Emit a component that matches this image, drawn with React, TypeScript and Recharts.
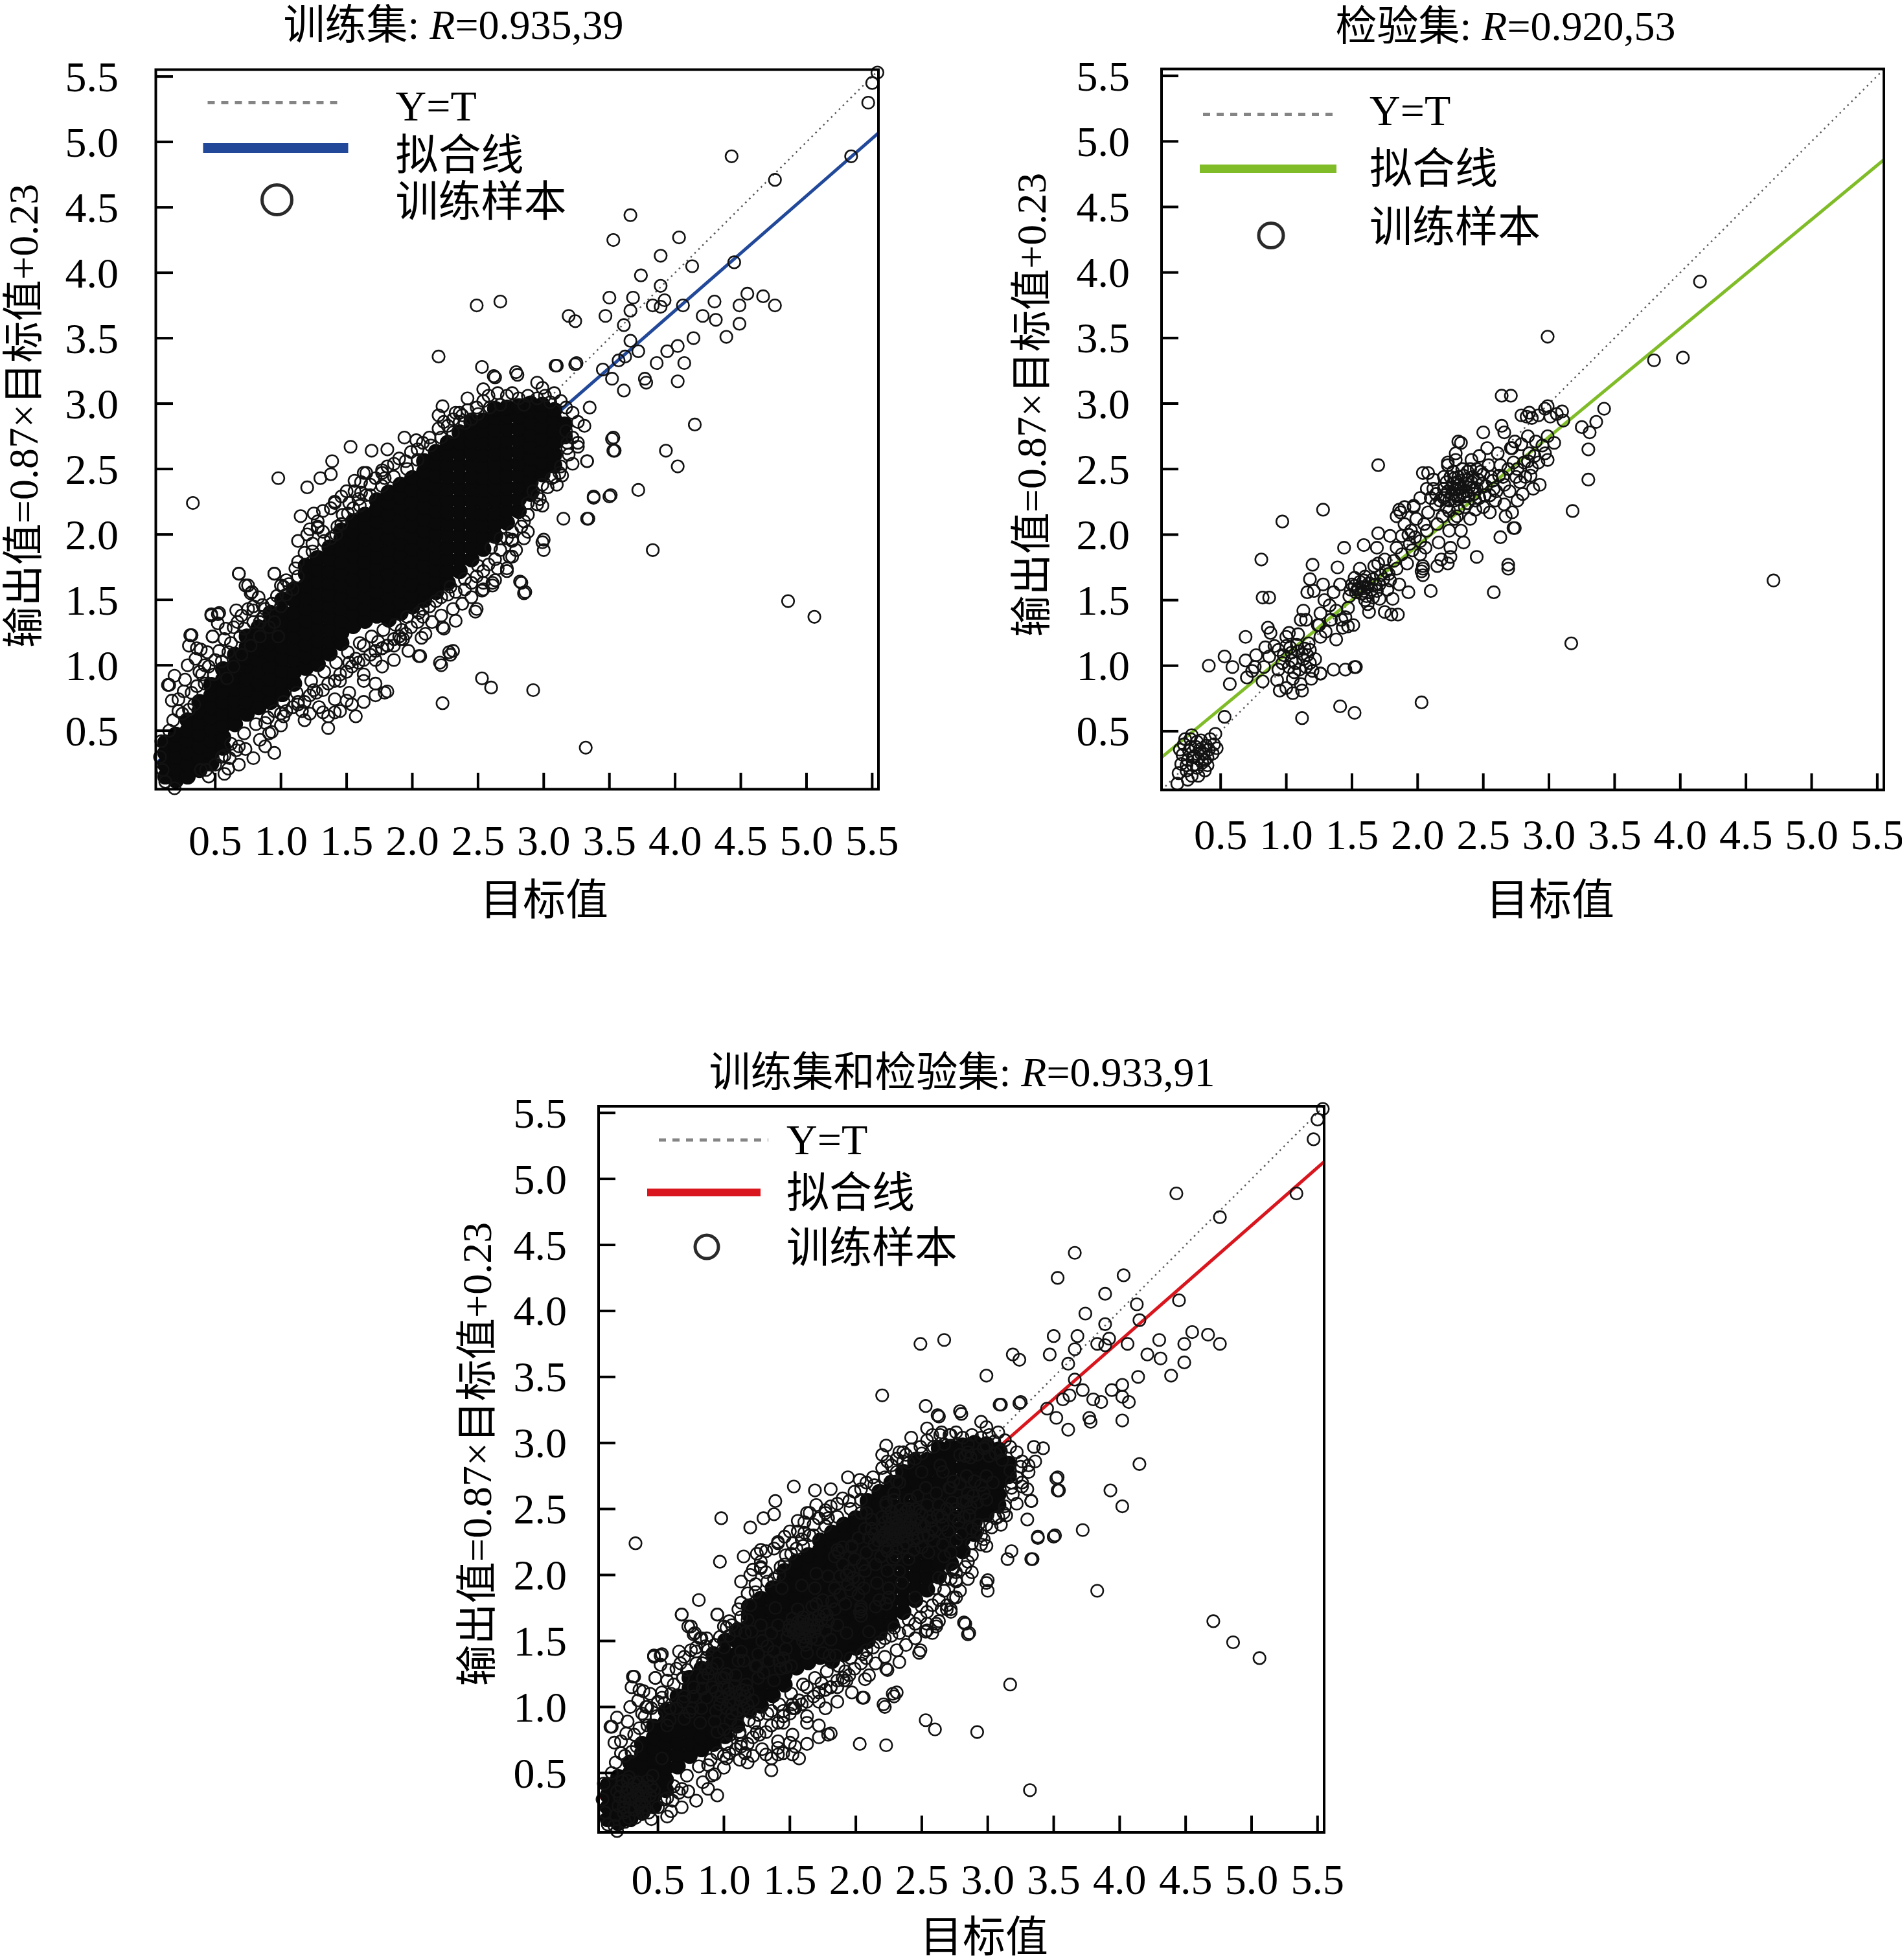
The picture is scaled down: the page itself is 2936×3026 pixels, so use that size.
import React from 'react';
import { ScatterChart, Scatter, XAxis, YAxis } from 'recharts';

type P = [number, number];

// ---------- axis values ----------
const axisTicks = [0.5, 1.0, 1.5, 2.0, 2.5, 3.0, 3.5, 4.0, 4.5, 5.0, 5.5];
const axisDomain: [number, number] = [0.05, 5.55];

// ---------- reference / fitted lines (endpoints) ----------
const identityLine: P[] = [[0.05, 0.05], [5.55, 5.55]];
const trainFit: P[] = [[0.05, 0.25], [5.55, 5.07]];
const testFit: P[] = [[0.05, 0.30], [5.55, 4.86]];
const allFit: P[] = [[0.05, 0.31], [5.55, 5.13]];

// ---------- training set: the saturated (solid black) core ----------
const trainCore: P[] = [
  [0.12, 0.15], [0.12, 0.24], [0.12, 0.33], [0.12, 0.41],
  [0.2, 0.12], [0.2, 0.21], [0.2, 0.3], [0.2, 0.39], [0.2, 0.47],
  [0.29, 0.15], [0.29, 0.24], [0.29, 0.33], [0.29, 0.42], [0.29, 0.5], [0.29, 0.58],
  [0.38, 0.2], [0.38, 0.29], [0.38, 0.38], [0.38, 0.47], [0.38, 0.56], [0.38, 0.65], [0.38, 0.72],
  [0.47, 0.25], [0.47, 0.33], [0.47, 0.42], [0.47, 0.51], [0.47, 0.6], [0.47, 0.68], [0.47, 0.77], [0.47, 0.85],
  [0.56, 0.37], [0.56, 0.45], [0.56, 0.54], [0.56, 0.63], [0.56, 0.72], [0.56, 0.8], [0.56, 0.89], [0.56, 0.97],
  [0.65, 0.55], [0.65, 0.64], [0.65, 0.73], [0.65, 0.82], [0.65, 0.91], [0.65, 1.0], [0.65, 1.08],
  [0.74, 0.63], [0.74, 0.72], [0.74, 0.81], [0.74, 0.9], [0.74, 0.99], [0.74, 1.06], [0.74, 1.14], [0.74, 1.22],
  [0.83, 0.68], [0.83, 0.77], [0.83, 0.86], [0.83, 0.95], [0.83, 1.04], [0.83, 1.12], [0.83, 1.21], [0.83, 1.29],
  [0.92, 0.72], [0.92, 0.81], [0.92, 0.9], [0.92, 0.99], [0.92, 1.08], [0.92, 1.17], [0.92, 1.24], [0.92, 1.32], [0.92, 1.4],
  [1.01, 0.78], [1.01, 0.87], [1.01, 0.96], [1.01, 1.05], [1.01, 1.14], [1.01, 1.23], [1.01, 1.32], [1.01, 1.41], [1.01, 1.5],
  [1.1, 0.86], [1.1, 0.95], [1.1, 1.04], [1.1, 1.13], [1.1, 1.22], [1.1, 1.31], [1.1, 1.4], [1.1, 1.5], [1.1, 1.58],
  [1.19, 0.98], [1.19, 1.07], [1.19, 1.16], [1.19, 1.25], [1.19, 1.34], [1.19, 1.43], [1.19, 1.52], [1.19, 1.61], [1.19, 1.7], [1.19, 1.76],
  [1.28, 1.01], [1.28, 1.1], [1.28, 1.19], [1.28, 1.28], [1.28, 1.37], [1.28, 1.46], [1.28, 1.55], [1.28, 1.64], [1.28, 1.73], [1.28, 1.82],
  [1.37, 1.09], [1.37, 1.18], [1.37, 1.27], [1.37, 1.36], [1.37, 1.45], [1.37, 1.54], [1.37, 1.63], [1.37, 1.72], [1.37, 1.81], [1.37, 1.9],
  [1.46, 1.17], [1.46, 1.25], [1.46, 1.34], [1.46, 1.43], [1.46, 1.52], [1.46, 1.61], [1.46, 1.7], [1.46, 1.79], [1.46, 1.88], [1.46, 1.97], [1.46, 2.03],
  [1.55, 1.3], [1.55, 1.39], [1.55, 1.48], [1.55, 1.57], [1.55, 1.66], [1.55, 1.75], [1.55, 1.84], [1.55, 1.93], [1.55, 2.02], [1.55, 2.1],
  [1.64, 1.34], [1.64, 1.43], [1.64, 1.52], [1.64, 1.61], [1.64, 1.7], [1.64, 1.79], [1.64, 1.88], [1.64, 1.97], [1.64, 2.06], [1.64, 2.15],
  [1.73, 1.38], [1.73, 1.47], [1.73, 1.56], [1.73, 1.65], [1.73, 1.74], [1.73, 1.83], [1.73, 1.92], [1.73, 2.01], [1.73, 2.1], [1.73, 2.19], [1.73, 2.26],
  [1.82, 1.35], [1.82, 1.43], [1.82, 1.52], [1.82, 1.61], [1.82, 1.7], [1.82, 1.79], [1.82, 1.88], [1.82, 1.97], [1.82, 2.06], [1.82, 2.15], [1.82, 2.24], [1.82, 2.32],
  [1.91, 1.4], [1.91, 1.48], [1.91, 1.57], [1.91, 1.66], [1.91, 1.75], [1.91, 1.84], [1.91, 1.93], [1.91, 2.02], [1.91, 2.11], [1.91, 2.2], [1.91, 2.29], [1.91, 2.38],
  [2.0, 1.45], [2.0, 1.53], [2.0, 1.62], [2.0, 1.71], [2.0, 1.8], [2.0, 1.89], [2.0, 1.98], [2.0, 2.07], [2.0, 2.16], [2.0, 2.25], [2.0, 2.34], [2.0, 2.43],
  [2.09, 1.5], [2.09, 1.58], [2.09, 1.67], [2.09, 1.76], [2.09, 1.85], [2.09, 1.94], [2.09, 2.03], [2.09, 2.12], [2.09, 2.21], [2.09, 2.3], [2.09, 2.39], [2.09, 2.48], [2.09, 2.56],
  [2.18, 1.56], [2.18, 1.64], [2.18, 1.73], [2.18, 1.82], [2.18, 1.91], [2.18, 2.0], [2.18, 2.09], [2.18, 2.18], [2.18, 2.27], [2.18, 2.36], [2.18, 2.45], [2.18, 2.54], [2.18, 2.63],
  [2.27, 1.63], [2.27, 1.72], [2.27, 1.81], [2.27, 1.9], [2.27, 1.99], [2.27, 2.08], [2.27, 2.17], [2.27, 2.26], [2.27, 2.35], [2.27, 2.44], [2.27, 2.53], [2.27, 2.62], [2.27, 2.7],
  [2.36, 1.72], [2.36, 1.81], [2.36, 1.9], [2.36, 1.99], [2.36, 2.08], [2.36, 2.17], [2.36, 2.26], [2.36, 2.35], [2.36, 2.44], [2.36, 2.53], [2.36, 2.62], [2.36, 2.7], [2.36, 2.78],
  [2.45, 1.81], [2.45, 1.9], [2.45, 1.99], [2.45, 2.08], [2.45, 2.17], [2.45, 2.26], [2.45, 2.35], [2.45, 2.44], [2.45, 2.53], [2.45, 2.62], [2.45, 2.71], [2.45, 2.78], [2.45, 2.86],
  [2.54, 1.89], [2.54, 1.98], [2.54, 2.07], [2.54, 2.16], [2.54, 2.25], [2.54, 2.34], [2.54, 2.43], [2.54, 2.52], [2.54, 2.61], [2.54, 2.7], [2.54, 2.79], [2.54, 2.87],
  [2.63, 1.99], [2.63, 2.08], [2.63, 2.17], [2.63, 2.26], [2.63, 2.35], [2.63, 2.44], [2.63, 2.53], [2.63, 2.62], [2.63, 2.71], [2.63, 2.8], [2.63, 2.89], [2.63, 2.96],
  [2.72, 2.09], [2.72, 2.18], [2.72, 2.27], [2.72, 2.36], [2.72, 2.45], [2.72, 2.54], [2.72, 2.63], [2.72, 2.72], [2.72, 2.81], [2.72, 2.9], [2.72, 2.97],
  [2.81, 2.18], [2.81, 2.27], [2.81, 2.36], [2.81, 2.45], [2.81, 2.54], [2.81, 2.63], [2.81, 2.72], [2.81, 2.81], [2.81, 2.9], [2.81, 2.98],
  [2.9, 2.31], [2.9, 2.4], [2.9, 2.49], [2.9, 2.58], [2.9, 2.67], [2.9, 2.76], [2.9, 2.85], [2.9, 2.94], [2.9, 3.0],
  [2.99, 2.46], [2.99, 2.55], [2.99, 2.64], [2.99, 2.73], [2.99, 2.82], [2.99, 2.91], [2.99, 2.99],
  [3.08, 2.53], [3.08, 2.61], [3.08, 2.7], [3.08, 2.79], [3.08, 2.88], [3.08, 2.95],
  [3.16, 2.75], [3.16, 2.84],
];

// ---------- training set: fringe circles around the core ----------
const trainFringe: P[] = [
  [0.14, 0.85], [0.17, 0.73], [0.27, 0.89], [0.22, 0.65], [0.32, 0.79], [0.4, 0.93], [0.45, 0.99], [0.5, 1.04],
  [0.53, 1.11], [0.48, 1.22], [0.57, 1.2], [0.64, 1.29], [0.67, 1.33], [0.7, 1.38], [0.75, 1.43], [0.79, 1.45],
  [0.84, 1.33], [0.88, 1.43], [0.95, 1.33], [1.0, 1.45], [1.04, 1.54], [1.09, 1.58], [0.73, 1.61], [0.78, 1.56],
  [0.68, 1.7], [0.83, 1.52], [0.52, 1.39], [0.47, 1.38], [0.31, 1.23], [0.36, 1.13], [0.42, 0.86], [0.59, 0.9],
  [0.64, 0.99], [0.7, 1.08], [0.77, 1.15], [0.84, 1.22], [0.91, 1.29], [0.98, 1.22], [0.25, 0.63], [0.18, 0.58],
  [0.34, 0.7], [0.08, 0.3], [0.1, 0.2], [0.12, 0.11], [0.09, 0.42], [0.15, 0.5],
  [0.22, 0.74], [0.3, 0.66], [0.26, 0.8], [0.36, 0.84], [0.42, 1.0], [0.38, 0.95], [0.49, 0.93], [0.55, 1.03],
  [0.6, 1.1], [0.62, 1.17], [0.69, 1.22], [0.72, 1.28], [0.79, 1.33], [0.87, 1.37], [0.93, 1.47], [0.97, 1.53],
  [1.06, 1.62], [1.13, 1.68], [0.19, 0.92], [0.29, 1.0], [0.35, 1.05], [0.44, 1.1], [0.58, 1.28], [0.66, 1.42],
  [1.13, 1.79], [1.18, 1.86], [1.24, 1.93], [1.13, 1.95], [1.22, 2.04], [1.28, 2.1], [1.32, 2.02], [1.38, 1.97],
  [1.43, 2.06], [1.47, 2.15], [1.52, 2.24], [1.5, 2.33], [1.56, 2.33], [1.61, 2.4], [1.59, 2.27], [1.63, 2.47],
  [1.68, 2.38], [1.72, 2.43], [1.77, 2.47], [1.81, 2.52], [1.86, 2.54], [1.79, 2.43], [1.9, 2.58], [1.95, 2.56],
  [1.99, 2.63], [2.04, 2.65], [2.08, 2.7], [1.38, 2.2], [1.41, 2.24], [1.46, 2.29], [1.32, 2.18], [1.28, 2.06],
  [1.11, 1.74], [1.04, 1.65], [1.0, 1.61], [0.95, 1.7], [1.24, 1.87], [1.33, 1.95], [1.42, 2.0], [1.51, 2.16],
  [1.6, 2.22], [1.68, 2.3], [1.77, 2.37], [1.86, 2.44], [1.96, 2.5], [2.04, 2.57], [1.65, 2.3], [1.55, 2.2],
  [2.13, 2.74], [2.2, 2.81], [2.27, 2.83], [2.31, 2.88], [2.36, 2.93], [2.42, 2.95], [2.45, 2.88], [2.49, 2.97],
  [2.54, 3.02], [2.58, 3.06], [2.65, 3.08], [2.72, 3.06], [2.76, 3.08], [2.81, 3.04], [2.88, 3.06], [2.95, 3.04],
  [3.01, 3.06], [3.08, 3.08], [3.13, 3.02], [3.17, 2.97], [2.36, 2.86], [2.42, 3.04], [2.33, 2.93], [2.67, 2.99],
  [2.85, 2.99], [2.14, 2.68], [2.22, 2.74], [2.31, 2.78], [2.4, 2.85], [2.5, 2.92], [2.59, 2.97], [3.05, 3.01],
  [3.22, 2.93], [3.26, 2.86], [3.31, 2.83], [3.35, 2.97], [3.22, 2.74], [3.19, 2.61], [3.26, 2.7], [3.13, 2.52],
  [3.06, 2.43], [3.1, 2.38], [3.22, 2.54], [3.17, 2.79], [2.99, 2.38], [2.92, 2.33], [2.97, 2.27], [2.88, 2.24],
  [2.88, 2.15], [2.83, 2.06], [2.76, 2.02], [2.72, 1.97], [2.67, 1.88], [2.63, 1.81], [2.58, 1.77], [2.54, 1.72],
  [2.49, 1.68], [2.45, 1.63], [2.4, 1.58], [2.33, 1.56], [2.27, 1.54], [2.22, 1.52], [2.18, 1.49], [2.13, 1.45],
  [2.08, 1.43], [2.76, 1.83], [2.72, 1.72], [2.63, 1.65], [2.54, 1.58], [2.45, 1.52], [2.38, 1.47], [2.31, 1.43],
  [2.22, 1.38], [2.15, 1.33], [2.85, 1.97], [2.79, 1.88], [2.65, 1.74], [2.67, 1.97], [3.18, 2.66], [3.12, 2.47],
  [3.03, 2.36], [2.95, 2.3], [2.85, 2.1], [2.76, 1.96], [2.6, 1.9], [2.5, 1.76], [2.4, 1.66], [2.29, 1.6],
  [2.04, 1.33], [1.99, 1.29], [1.95, 1.24], [1.9, 1.22], [1.86, 1.2], [1.81, 1.15], [1.77, 1.13], [1.72, 1.11],
  [1.68, 1.08], [1.63, 1.04], [1.59, 1.02], [1.54, 0.99], [1.5, 0.95], [1.45, 0.93], [1.41, 0.88], [1.36, 0.86],
  [1.32, 0.81], [1.27, 0.79], [1.22, 0.77], [1.18, 0.72], [1.13, 0.7], [1.09, 0.68], [1.04, 0.65], [1.0, 0.63],
  [1.63, 0.88], [1.52, 0.79], [1.41, 0.74], [1.29, 0.68], [1.77, 0.99], [1.86, 1.04], [1.97, 1.11], [1.45, 0.65],
  [1.54, 0.7], [1.36, 0.61], [1.18, 0.58], [1.02, 0.72], [1.12, 0.79], [1.23, 0.88], [1.33, 0.95], [1.42, 1.02],
  [1.51, 1.1], [1.6, 1.17], [1.69, 1.22], [1.78, 1.27], [1.87, 1.31], [1.96, 1.37], [2.05, 1.4], [1.57, 1.05],
  [1.74, 1.18], [1.92, 1.27],
  [0.39, 0.2], [0.5, 0.24], [0.61, 0.29], [0.73, 0.36], [0.84, 0.43], [0.93, 0.49], [1.0, 0.54], [0.45, 0.15],
  [0.57, 0.17], [0.79, 0.29], [0.68, 0.24], [0.88, 0.38], [0.62, 0.4], [0.72, 0.48], [0.81, 0.55], [0.9, 0.6],
  [0.55, 0.3], [0.66, 0.35],
];

// ---------- training set: scattered individual samples ----------
const trainOutliers: P[] = [
  [5.54, 5.53], [5.5, 5.45], [5.47, 5.3], [5.34, 4.89], [4.43, 4.89], [4.76, 4.71], [3.66, 4.44], [3.53, 4.25],
  [4.03, 4.27], [3.89, 4.13], [4.13, 4.05], [4.45, 4.08], [3.74, 3.98], [3.89, 3.9], [3.5, 3.81], [3.68, 3.81],
  [3.66, 3.71], [3.83, 3.75], [3.89, 3.74], [3.92, 3.79], [4.06, 3.75], [4.55, 3.84], [4.67, 3.82], [4.76, 3.75],
  [4.3, 3.78], [4.49, 3.75], [4.21, 3.67], [4.31, 3.64], [4.49, 3.61], [4.39, 3.51], [4.14, 3.5], [4.02, 3.44],
  [3.94, 3.4], [4.07, 3.31], [4.02, 3.17], [3.86, 3.31], [3.77, 3.19], [3.78, 3.16], [3.61, 3.1], [3.57, 3.33],
  [3.62, 3.36], [3.72, 3.4], [3.66, 3.48], [3.61, 3.6], [3.47, 3.67], [3.19, 3.67], [3.24, 3.63], [3.45, 3.26],
  [3.52, 3.19], [3.25, 3.31], [3.1, 3.29], [4.15, 2.84], [3.53, 2.74], [3.54, 2.64], [3.93, 2.64], [4.02, 2.52],
  [3.33, 2.56], [3.38, 2.29], [3.51, 2.3], [3.34, 2.12], [3.15, 2.12], [3.72, 2.34], [3.83, 1.88], [4.86, 1.49],
  [5.06, 1.37], [3.32, 0.37], [2.92, 0.81], [2.53, 0.9], [2.6, 0.83], [2.23, 0.71], [2.23, 1.29], [2.33, 1.34],
  [2.28, 1.1], [2.29, 1.08], [2.21, 1.02], [2.05, 1.07], [2.07, 1.21], [2.49, 1.43], [2.53, 1.57], [2.61, 1.63],
  [2.82, 1.64], [2.86, 1.56], [3.0, 1.88], [3.0, 1.96], [2.49, 3.75], [2.67, 3.78], [2.2, 3.36], [2.53, 3.28],
  [2.62, 3.21], [2.79, 3.24], [2.8, 3.22], [3.09, 3.29], [3.24, 3.3], [0.33, 2.24], [0.98, 2.43], [0.19, 0.06],
  [2.23, 2.98], [2.2, 2.91], [2.24, 2.86], [2.54, 3.11], [2.38, 2.91], [2.95, 3.16], [2.99, 3.12], [3.33, 2.12],
  [3.38, 2.28], [3.5, 2.29], [3.33, 2.56], [3.52, 2.73], [3.53, 2.64], [3.18, 2.7], [3.26, 2.67], [3.08, 2.44],
  [3.14, 2.45], [2.95, 2.23], [2.99, 2.22], [2.88, 2.02], [2.76, 1.95], [2.72, 1.74], [2.74, 1.83], [2.54, 1.63],
  [2.61, 1.61], [2.08, 1.37], [2.1, 1.24], [2.06, 1.07], [1.93, 1.2], [1.72, 1.04], [1.81, 1.15], [1.63, 1.15],
  [1.52, 1.02], [1.45, 0.88], [1.63, 0.93], [1.72, 0.86], [1.79, 0.79], [1.25, 0.81], [1.16, 0.65], [1.13, 0.72],
  [0.95, 0.65], [0.88, 0.56], [1.02, 0.61], [0.68, 0.38], [0.57, 0.31], [0.43, 0.2], [1.36, 0.52], [1.57, 0.61],
  [1.22, 0.63], [1.32, 0.64], [1.41, 0.64], [1.5, 0.73], [1.63, 0.72], [1.72, 0.77], [1.81, 0.8], [1.91, 1.2],
  [1.86, 1.15], [1.77, 1.13], [2.22, 1.0], [2.31, 1.11], [2.24, 1.28], [2.48, 1.41], [2.83, 1.63], [2.85, 1.55],
  [2.99, 1.94], [0.6, 0.21], [0.95, 0.33], [0.91, 0.48], [1.2, 2.36], [1.3, 2.43], [1.38, 2.46], [1.39, 2.56],
  [1.53, 2.67], [1.69, 2.64], [1.81, 2.65], [1.94, 2.74], [2.03, 2.72], [2.63, 3.2], [1.15, 2.14], [1.25, 2.16],
  [1.28, 2.05], [1.2, 2.0], [1.41, 2.25], [1.46, 2.08], [1.56, 2.41], [1.61, 2.32], [1.65, 2.47], [1.77, 2.49],
  [0.68, 1.7], [0.75, 1.61], [0.77, 1.55], [0.95, 1.7], [1.02, 1.6], [0.47, 1.39], [0.53, 1.4], [0.52, 1.32],
  [0.48, 1.22], [0.79, 1.42], [0.86, 1.46], [0.84, 1.33], [0.32, 1.23], [0.3, 1.15], [0.39, 1.12], [0.15, 0.85],
];

// ---------- test (validation) set ----------
const testPoints: P[] = [
  [0.17, 0.1], [0.18, 0.18], [0.2, 0.25], [0.21, 0.32], [0.22, 0.4], [0.24, 0.2], [0.25, 0.28], [0.26, 0.35],
  [0.27, 0.44], [0.28, 0.16], [0.29, 0.24], [0.3, 0.31], [0.31, 0.38], [0.32, 0.22], [0.33, 0.29], [0.34, 0.36],
  [0.35, 0.43], [0.36, 0.26], [0.37, 0.33], [0.38, 0.2], [0.39, 0.39], [0.4, 0.3], [0.41, 0.36], [0.42, 0.44],
  [0.44, 0.33], [0.45, 0.4], [0.46, 0.48], [0.23, 0.44], [0.19, 0.36], [0.28, 0.47], [0.47, 0.37], [0.4, 0.24],
  [0.33, 0.16], [0.25, 0.13], [0.29, 0.3], [0.35, 0.33], [0.27, 0.38], [0.32, 0.42], [0.38, 0.28], [0.24, 0.24],
  [2.99, 3.51], [2.64, 3.06], [2.71, 3.06], [1.7, 2.53], [1.28, 2.19], [0.97, 2.1], [0.81, 1.81], [0.82, 1.52],
  [0.87, 1.52], [0.69, 1.22], [0.41, 1.0], [0.53, 1.07], [0.59, 0.99], [0.57, 0.86], [0.53, 0.61], [1.12, 0.6],
  [1.41, 0.69], [1.52, 0.64], [2.03, 0.72], [3.17, 1.17], [2.58, 1.56], [2.69, 1.77], [2.69, 1.74], [2.45, 1.83],
  [2.63, 1.98], [3.18, 2.18], [3.3, 2.42], [3.3, 2.65], [3.25, 2.82], [3.31, 2.78], [3.36, 2.86], [3.42, 2.96],
  [2.1, 1.57], [1.93, 1.56], [1.36, 0.97], [1.45, 0.97], [1.52, 0.99], [1.53, 0.99], [1.26, 0.94], [2.5, 2.78],
  [2.31, 2.71], [2.33, 2.7], [2.04, 2.47], [2.08, 2.47], [4.15, 3.93], [3.8, 3.33], [4.02, 3.35], [4.71, 1.65],
  [0.69, 1.04], [0.7, 0.91], [0.76, 0.99], [0.83, 0.99], [0.82, 0.88], [0.87, 1.07], [0.86, 1.29], [0.88, 1.25],
  [0.84, 1.14], [0.91, 1.15], [0.94, 0.97], [0.95, 0.81], [1.0, 1.22], [1.02, 1.25], [1.03, 1.14], [1.04, 1.04],
  [1.05, 0.9], [1.05, 0.79], [1.09, 1.11], [1.1, 0.97], [1.11, 0.86], [1.12, 0.81], [1.13, 1.05], [1.16, 1.08],
  [1.17, 1.17], [1.18, 1.02], [1.19, 0.9], [1.22, 1.05], [1.26, 0.94], [1.09, 1.24], [1.11, 1.35], [1.13, 1.42],
  [1.24, 1.31], [1.26, 1.22], [0.93, 0.89], [1.0, 0.83], [1.02, 0.99], [0.77, 1.08], [0.74, 0.96], [0.98, 1.08],
  [1.04, 1.1], [1.07, 1.02], [1.08, 1.16], [1.12, 1.09], [1.14, 1.13], [1.15, 0.99], [1.06, 0.95], [0.97, 1.02],
  [0.94, 1.12], [1.0, 1.15], [1.18, 1.12], [1.2, 0.96],
  [1.16, 1.56], [1.18, 1.66], [1.2, 1.77], [1.21, 1.57], [1.26, 1.4], [1.29, 1.5], [1.3, 1.26], [1.34, 1.35],
  [1.36, 1.56], [1.38, 1.2], [1.39, 1.75], [1.41, 1.62], [1.44, 1.9], [1.43, 1.29], [1.45, 1.37], [1.47, 1.44],
  [1.48, 1.53], [1.5, 1.62], [1.51, 1.31], [1.52, 1.67], [1.54, 1.58], [1.56, 1.74], [1.59, 1.92], [1.59, 1.65],
  [1.61, 1.53], [1.62, 1.47], [1.63, 1.41], [1.65, 1.58], [1.67, 1.76], [1.68, 1.62], [1.69, 1.9], [1.7, 2.01],
  [1.71, 1.51], [1.72, 1.69], [1.75, 1.81], [1.75, 1.41], [1.77, 1.58], [1.79, 1.65], [1.8, 1.39], [1.81, 1.51],
  [1.84, 1.74], [1.85, 1.39], [1.86, 1.62], [1.42, 1.35], [1.47, 1.3], [1.38, 1.42], [1.33, 1.46], [1.28, 1.62],
  [1.25, 1.31], [1.15, 1.35], [1.52, 1.61], [1.55, 1.59], [1.59, 1.57], [1.62, 1.6], [1.57, 1.55],
  [1.53, 1.56], [1.56, 1.64], [1.58, 1.6], [1.6, 1.68], [1.63, 1.63], [1.66, 1.66], [1.69, 1.57], [1.71, 1.62],
  [1.74, 1.66], [1.76, 1.72], [1.6, 1.5], [1.66, 1.52], [1.49, 1.58], [1.7, 1.78], [1.78, 1.7], [1.82, 1.8],
  [1.88, 1.85], [1.92, 1.78], [1.96, 1.88], [1.98, 1.98], [2.02, 1.95], [2.05, 2.08], [1.93, 2.0],
  [1.87, 2.17], [1.9, 2.08], [1.88, 1.99], [1.84, 1.9], [1.94, 1.93], [1.95, 2.03], [1.97, 2.21], [1.99, 2.12],
  [2.02, 1.85], [2.03, 1.72], [2.04, 1.76], [2.06, 1.9], [2.07, 2.03], [2.08, 2.17], [2.1, 2.28], [2.12, 2.35],
  [2.14, 2.23], [2.15, 2.08], [2.16, 1.94], [2.18, 1.81], [2.2, 2.35], [2.22, 2.21], [2.23, 2.53], [2.24, 2.03],
  [2.25, 1.9], [2.27, 2.39], [2.28, 2.26], [2.29, 2.57], [2.3, 2.14], [2.31, 2.44], [2.32, 2.3], [2.33, 2.03],
  [2.35, 1.94], [2.36, 2.21], [2.37, 2.39], [2.38, 2.48], [2.39, 2.3], [2.4, 2.12], [2.41, 2.57], [2.42, 2.44],
  [2.44, 2.26], [2.45, 2.35], [2.47, 2.6], [2.48, 2.48], [2.49, 2.39], [2.5, 2.21], [2.51, 2.3], [2.53, 2.66],
  [2.54, 2.53], [2.55, 2.17], [2.56, 2.44], [2.58, 2.35], [2.59, 2.26], [2.61, 2.62], [2.63, 2.53], [2.65, 2.44],
  [2.66, 2.23], [2.67, 2.14], [2.7, 2.33], [2.72, 2.66], [2.73, 2.55], [2.74, 2.05], [2.75, 2.44], [2.76, 2.26],
  [2.79, 2.69], [2.81, 2.55], [2.82, 2.44], [2.84, 2.75], [2.85, 2.62], [2.87, 2.51], [2.88, 2.35], [2.9, 2.71],
  [2.92, 2.55], [2.93, 2.38], [2.97, 2.62], [2.99, 2.75], [2.99, 2.57], [3.04, 2.7], [2.2, 2.28], [2.23, 2.33],
  [2.29, 2.3], [2.25, 2.44], [2.33, 2.35], [2.28, 2.12], [2.19, 2.14], [2.26, 2.36], [2.3, 2.4], [2.34, 2.32],
  [2.38, 2.42], [2.27, 2.48], [2.22, 2.4], [2.31, 2.27], [2.35, 2.45], [2.42, 2.36], [2.4, 2.5],
  [2.21, 2.3], [2.24, 2.26], [2.26, 2.31], [2.3, 2.34], [2.32, 2.38], [2.35, 2.29], [2.37, 2.33], [2.41, 2.4],
  [2.43, 2.31], [2.46, 2.42], [2.24, 2.18], [2.31, 2.2], [2.38, 2.24], [2.44, 2.19], [2.47, 2.28], [2.52, 2.37],
  [2.55, 2.3], [2.57, 2.41], [2.5, 2.46], [2.45, 2.5], [2.34, 2.5], [2.17, 2.26], [2.14, 2.31], [2.28, 2.43],
  [2.39, 2.36], [2.6, 2.33], [2.62, 2.45], [2.66, 2.38], [2.69, 2.5], [2.76, 2.5], [2.78, 2.4], [2.84, 2.56],
  [2.89, 2.6], [2.95, 2.68], [2.86, 2.45],
  [2.79, 2.91], [2.83, 2.9], [2.85, 2.93], [2.87, 2.89], [2.92, 2.91], [2.97, 2.96], [3.01, 2.9], [3.06, 2.92],
  [3.1, 2.94], [3.11, 2.87], [2.99, 2.98], [2.64, 2.83], [2.66, 2.78], [2.74, 2.71], [2.71, 2.66], [2.8, 2.31],
  [2.72, 2.17], [2.73, 2.05], [2.23, 1.78], [2.25, 1.83], [2.15, 1.76], [2.04, 1.74], [2.04, 1.69], [1.9, 2.21],
  [1.97, 2.22], [2.02, 2.28], [2.07, 2.35], [2.12, 2.42], [2.2, 2.44], [2.23, 2.55], [2.29, 2.62], [1.79, 1.99],
  [1.84, 2.14], [1.86, 2.19],
];

const toXY = (arr: P[]) => arr.map(([x, y]) => ({ x, y }));

// ---------- layout ----------
const ML = 170;
const MR = 70;
const MT = 30;
const MB = 140;
const Y_AXIS_W = 160;
const X_AXIS_H = 130;
const FONT_NUM = "'Liberation Serif', 'Times New Roman', serif";
const FONT_MIX = "'Liberation Serif', 'Noto Sans CJK SC', serif";

type PanelCfg = {
  id: string;
  left: number;
  top: number;
  w: number;
  h: number;
  fit: P[];
  fitColor: string;
  core: P[];
  rings: P[];
  xLabDy: number;
  yLabGap: number;
};

const panels: PanelCfg[] = [
  {
    id: 'train', left: 240.5, top: 107.5, w: 1115.5, h: 1111,
    fit: trainFit, fitColor: '#22489a', core: trainCore,
    rings: [...trainFringe, ...trainOutliers], xLabDy: 78, yLabGap: 58,
  },
  {
    id: 'test', left: 1793, top: 106.5, w: 1115, h: 1113,
    fit: testFit, fitColor: '#80bc28', core: [],
    rings: testPoints, xLabDy: 68, yLabGap: 49,
  },
  {
    id: 'all', left: 924, top: 1708, w: 1120, h: 1121,
    fit: allFit, fitColor: '#d9161e', core: trainCore,
    rings: [...trainFringe, ...trainOutliers, ...testPoints], xLabDy: 72, yLabGap: 49,
  },
];

const emptyShape = () => <g />;
const ringShape = (props: any) => (
  <circle cx={props.cx} cy={props.cy} r={9.3} fill="none" stroke="#121212" strokeWidth={2.6} />
);
const coreShape = (props: any) => (
  <circle cx={props.cx} cy={props.cy} r={11.5} fill="#0a0a0a" stroke="#0a0a0a" strokeWidth={2} />
);

function Panel({ cfg }: { cfg: PanelCfg }) {
  const W = cfg.w + ML + MR;
  const H = cfg.h + MT + MB;
  const plotBottom = MT + cfg.h;
  const xTick = (p: any) => (
    <g>
      <line x1={p.x} x2={p.x} y1={plotBottom} y2={plotBottom - 26} stroke="#000" strokeWidth={4} />
      <text x={p.x} y={plotBottom + cfg.xLabDy} textAnchor="middle" dominantBaseline="central"
        fontFamily={FONT_NUM} fontSize={66} fill="#000">
        {Number(p.payload.value).toFixed(1)}
      </text>
    </g>
  );
  const yTick = (p: any) => (
    <g>
      <line x1={ML} x2={ML + 26} y1={p.y} y2={p.y} stroke="#000" strokeWidth={4} />
      <text x={ML - cfg.yLabGap} y={p.y} textAnchor="end" dominantBaseline="central"
        fontFamily={FONT_NUM} fontSize={66} fill="#000">
        {Number(p.payload.value).toFixed(1)}
      </text>
    </g>
  );
  return (
    <div style={{ position: 'absolute', left: cfg.left - ML, top: cfg.top - MT }}>
      <ScatterChart width={W} height={H}
        margin={{ top: MT, right: MR, bottom: MB - X_AXIS_H, left: ML - Y_AXIS_W }}>
        <XAxis type="number" dataKey="x" domain={axisDomain} ticks={axisTicks} interval={0}
          height={X_AXIS_H} axisLine={false} tickLine={false} tick={xTick} />
        <YAxis type="number" dataKey="y" domain={axisDomain} ticks={axisTicks} interval={0}
          width={Y_AXIS_W} axisLine={false} tickLine={false} tick={yTick} />
        <Scatter data={toXY(identityLine)} line={{ stroke: '#5a5a5a', strokeWidth: 2.5, strokeDasharray: '2.5 6' }}
          shape={emptyShape} isAnimationActive={false} />
        <Scatter data={toXY(cfg.fit)} line={{ stroke: cfg.fitColor, strokeWidth: 5 }}
          shape={emptyShape} isAnimationActive={false} />
        {cfg.core.length > 0 && (
          <Scatter data={toXY(cfg.core)} shape={coreShape} isAnimationActive={false} />
        )}
        <Scatter data={toXY(cfg.rings)} shape={ringShape} isAnimationActive={false} />
      </ScatterChart>
    </div>
  );
}

type LegendCfg = {
  left: number; top: number;
  dash: [number, number, number];
  solid: [number, number, number];
  color: string; width: number;
  circle: [number, number, number];
  textX: number; textY: [number, number, number];
};

const legends: LegendCfg[] = [
  { left: 240.5, top: 107.5, dash: [80, 290, 51], solid: [73, 297, 121], color: '#22489a', width: 15,
    circle: [187, 201, 23], textX: 370, textY: [56, 132, 204] },
  { left: 1793, top: 106.5, dash: [64, 265, 70], solid: [59, 270, 154], color: '#80bc28', width: 13,
    circle: [169, 257, 19], textX: 321, textY: [64, 154, 244] },
  { left: 924, top: 1708, dash: [93, 262, 52], solid: [75, 250, 133], color: '#d9161e', width: 12,
    circle: [167, 217, 18], textX: 290, textY: [51, 133, 218] },
];

const titles = [
  { x: 700, y: 60, pre: '训练集: ', r: '=0.935,39' },
  { x: 2324, y: 62, pre: '检验集: ', r: '=0.920,53' },
  { x: 1485, y: 1677, pre: '训练集和检验集: ', r: '=0.933,91' },
];
const yLabels = [
  { x: 36, y: 642 },
  { x: 1592, y: 625 },
  { x: 736, y: 2245 },
];
const xLabels = [
  { x: 840, y: 1389 },
  { x: 2393, y: 1389 },
  { x: 1519, y: 2990 },
];

function Overlay() {
  return (
    <svg width={2936} height={3026} style={{ position: 'absolute', left: 0, top: 0, pointerEvents: 'none' }}>
      {panels.map((p) => (
        <rect key={p.id} x={p.left} y={p.top} width={p.w} height={p.h} fill="none" stroke="#000" strokeWidth={4} />
      ))}
      {titles.map((t, i) => (
        <text key={'t' + i} x={t.x} y={t.y} textAnchor="middle" fontFamily={FONT_MIX} fontSize={64} fill="#000">
          {t.pre}<tspan fontStyle="italic">R</tspan>{t.r}
        </text>
      ))}
      {yLabels.map((l, i) => (
        <text key={'yl' + i} transform={`translate(${l.x},${l.y}) rotate(-90)`} textAnchor="middle"
          dominantBaseline="central" fontFamily={FONT_MIX} fontSize={64} fill="#000">
          输出值=0.87×目标值+0.23
        </text>
      ))}
      {xLabels.map((l, i) => (
        <text key={'xl' + i} x={l.x} y={l.y} textAnchor="middle" dominantBaseline="central"
          fontFamily={FONT_MIX} fontSize={66} fill="#000">
          目标值
        </text>
      ))}
      {legends.map((g, i) => (
        <g key={'lg' + i} transform={`translate(${g.left},${g.top})`}>
          <line x1={g.dash[0]} x2={g.dash[1]} y1={g.dash[2]} y2={g.dash[2]} stroke="#858585" strokeWidth={5}
            strokeDasharray="11 10" />
          <line x1={g.solid[0]} x2={g.solid[1]} y1={g.solid[2]} y2={g.solid[2]} stroke={g.color} strokeWidth={g.width} />
          <circle cx={g.circle[0]} cy={g.circle[1]} r={g.circle[2]} fill="none" stroke="#2a2a2a" strokeWidth={5} />
          <text x={g.textX} y={g.textY[0]} dominantBaseline="central" fontFamily={FONT_NUM} fontSize={66} fill="#000">Y=T</text>
          <text x={g.textX} y={g.textY[1]} dominantBaseline="central" fontFamily={FONT_MIX} fontSize={66} fill="#000">拟合线</text>
          <text x={g.textX} y={g.textY[2]} dominantBaseline="central" fontFamily={FONT_MIX} fontSize={66} fill="#000">训练样本</text>
        </g>
      ))}
    </svg>
  );
}

export default function App() {
  return (
    <div style={{ position: 'absolute', left: 0, top: 0, width: 2936, height: 3026, overflow: 'hidden', background: '#fff' }}>
      {panels.map((p) => (
        <Panel key={p.id} cfg={p} />
      ))}
      <Overlay />
    </div>
  );
}
